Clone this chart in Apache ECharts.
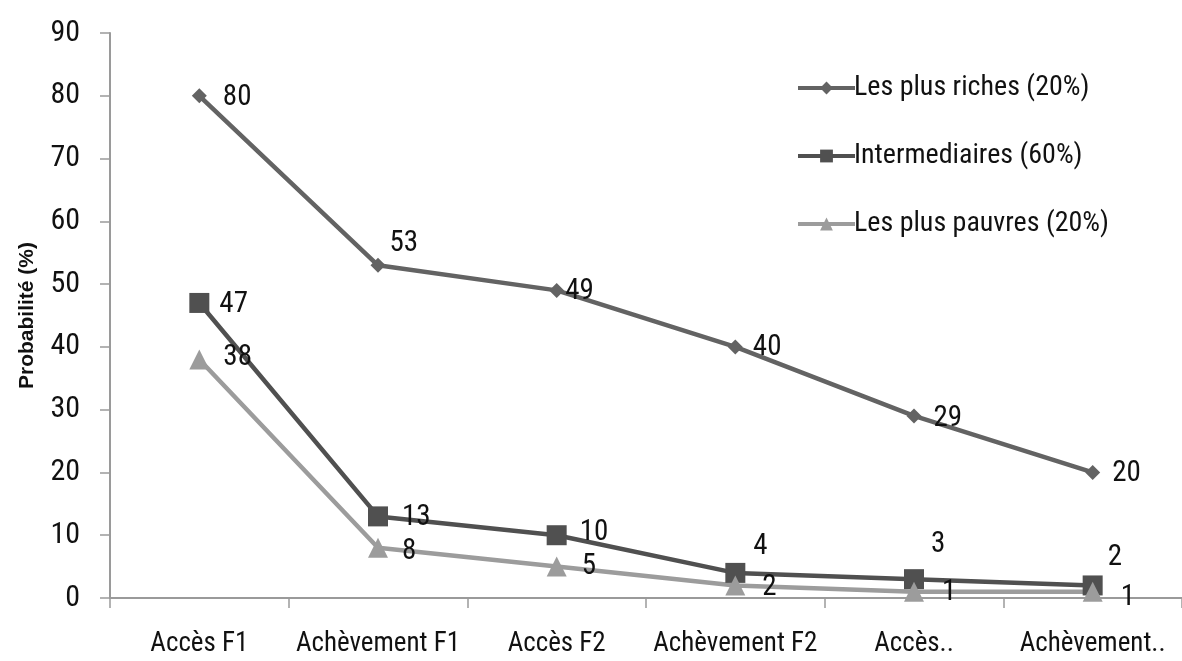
<!DOCTYPE html>
<html>
<head>
<meta charset="utf-8">
<script src="https://cdn.jsdelivr.net/npm/echarts@6/dist/echarts.min.js"></script>
<style>
  html, body { margin: 0; padding: 0; background: #ffffff; }
  #chart { width: 1182px; height: 661px; }
</style>
</head>
<body>
<div id="chart"></div>
<script>
// Étapes du parcours scolaire
const categories = ['Accès F1', 'Achèvement F1', 'Accès F2', 'Achèvement F2', 'Accès..', 'Achèvement..'];

// Probabilité (%) par groupe de revenu
const richesValues = [80, 53, 49, 40, 29, 20];
const intermediairesValues = [47, 13, 10, 4, 3, 2];
const pauvresValues = [38, 8, 5, 2, 1, 1];

const yTicks = [0, 10, 20, 30, 40, 50, 60, 70, 80, 90];

// Décalages des étiquettes [dx, dy] point par point
const richesLabelOffsets = [[16, 2], [4, -22], [1, 1], [10, 1], [12, 3], [12, 1]];
const interLabelOffsets = [[10, 2], [14, 1], [13, -2], [8, -26], [7, -34], [5, -28]];
const pauvresLabelOffsets = [[14, -2], [14, 4], [15, 0], [17, 2], [18, 1], [18, 6]];

const narrow = '"Liberation Sans Narrow", "Roboto Condensed", "DejaVu Sans Condensed", sans-serif';

function buildData(values, offsets) {
  return values.map((v, i) => ({
    value: v,
    label: { offset: offsets[i] }
  }));
}

function lineSeries(name, values, offsets, color, symbol, symbolSize) {
  return {
    name: name,
    type: 'line',
    data: buildData(values, offsets),
    symbol: symbol,
    symbolSize: symbolSize,
    lineStyle: { color: color, width: 4.5 },
    itemStyle: { color: color },
    label: {
      show: true,
      position: 'right',
      distance: 0,
      color: '#111111',
      fontFamily: narrow,
      fontSize: 29
    },
    z: 3
  };
}

const chart = echarts.init(document.getElementById('chart'));
chart.setOption({
  animation: false,
  backgroundColor: '#ffffff',
  grid: { left: 110, right: -8, top: 33, bottom: 63 },
  legend: {
    orient: 'vertical',
    left: 791,
    top: 69,
    itemWidth: 57,
    itemHeight: 16,
    itemGap: 40,
    lineStyle: { width: 4 },
    textStyle: { fontFamily: narrow, fontSize: 28, color: '#111111', padding: [0, 0, 0, -6] },
    data: ['Les plus riches (20%)', 'Intermediaires (60%)', 'Les plus pauvres (20%)']
  },
  xAxis: {
    type: 'category',
    data: categories,
    boundaryGap: true,
    axisLine: { show: true, lineStyle: { color: '#9a9a9a', width: 2 } },
    axisTick: { show: true, alignWithLabel: false, length: 10, lineStyle: { color: '#9a9a9a', width: 1.5 } },
    axisLabel: { fontFamily: narrow, fontSize: 27, color: '#111111', margin: 33, interval: 0 }
  },
  yAxis: {
    type: 'value',
    min: 0,
    max: 90,
    interval: 10,
    name: 'Probabilité (%)',
    nameLocation: 'middle',
    nameGap: 72,
    nameRotate: 90,
    nameTextStyle: { fontFamily: '"Liberation Sans", Arial, sans-serif', fontWeight: 'bold', fontSize: 21, color: '#111111' },
    axisLine: { show: true, lineStyle: { color: '#9a9a9a', width: 2 } },
    axisTick: { show: true, length: 10, lineStyle: { color: '#9a9a9a', width: 1.5 } },
    splitLine: { show: false },
    axisLabel: {
      fontFamily: narrow, fontSize: 30, color: '#111111', margin: 30,
      formatter: v => (yTicks.includes(v) ? String(v) : '')
    }
  },
  series: [
    lineSeries('Les plus riches (20%)', richesValues, richesLabelOffsets, '#636363', 'diamond', 15),
    lineSeries('Intermediaires (60%)', intermediairesValues, interLabelOffsets, '#505050', 'rect', 20),
    lineSeries('Les plus pauvres (20%)', pauvresValues, pauvresLabelOffsets, '#9c9c9c', 'triangle', 20)
  ]
});
</script>
</body>
</html>
